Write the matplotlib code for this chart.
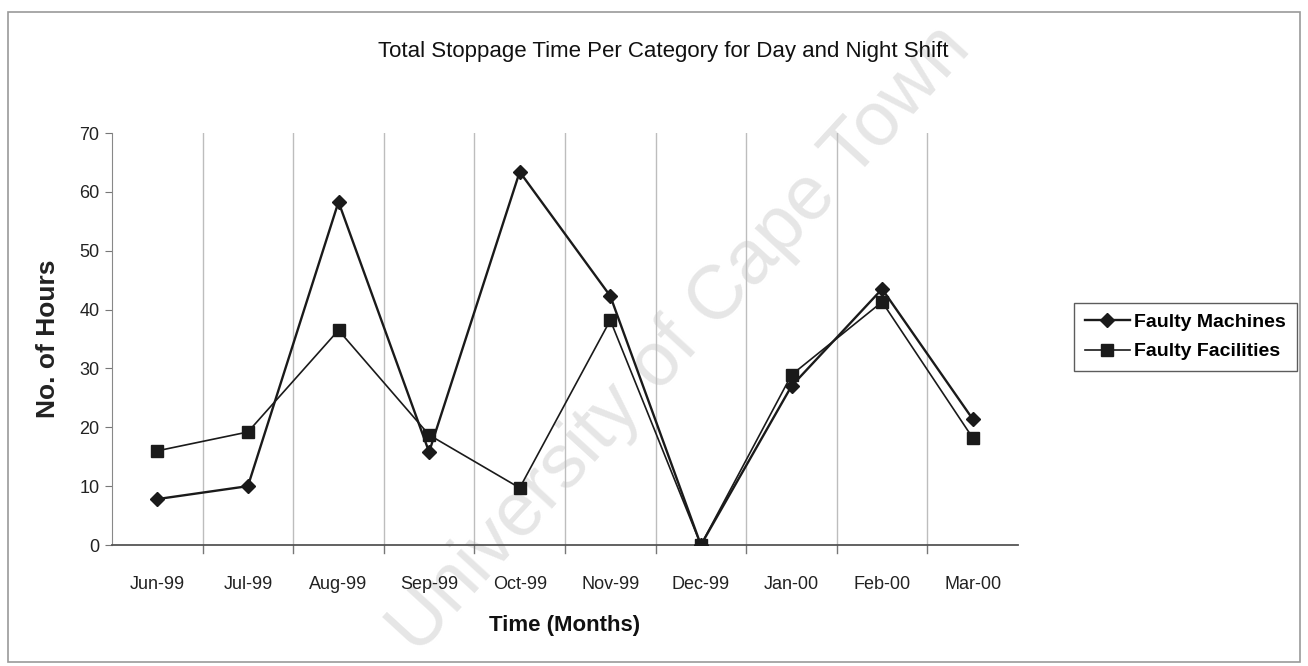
import numpy as np
import matplotlib
matplotlib.use('Agg')
import matplotlib.pyplot as plt
from matplotlib.patches import Rectangle

plt.rcParams['font.family'] = ['Liberation Sans', 'DejaVu Sans']

months = ['Jun-99', 'Jul-99', 'Aug-99', 'Sep-99', 'Oct-99', 'Nov-99',
          'Dec-99', 'Jan-00', 'Feb-00', 'Mar-00']
machines = [7.8, 10.0, 58.3, 15.8, 63.4, 42.3, 0.0, 27.0, 43.5, 21.4]
facilities = [16.0, 19.2, 36.5, 18.7, 9.7, 38.2, 0.0, 28.9, 41.3, 18.2]
yticks = [0, 10, 20, 30, 40, 50, 60, 70]

W, H = 1308, 666
fig = plt.figure(figsize=(W / 100, H / 100), dpi=100)
fig.patch.set_facecolor('white')

# chart area border
fig.patches.append(Rectangle((8/W, 4/H), 1292/W, 650/H,
                             transform=fig.transFigure, fill=False,
                             edgecolor='#9a9a9a', linewidth=1.2))

# faint watermark behind the plot
fig.text(0.52, 0.49, 'University of Cape Town', rotation=47.5,
         ha='center', va='center', fontsize=55, color='#e6e6e6',
         zorder=-1)

fig.text(663/W, 1 - 52/H,
         'Total Stoppage Time Per Category for Day and Night Shift',
         ha='center', va='center', fontsize=16, color='#111111')

ax = fig.add_axes([112/W, 1 - 545/H, (1018 - 112)/W, (545 - 133)/H])
ax.patch.set_alpha(0)

x = np.arange(len(months))
ax.plot(x, machines, color='#1a1a1a', lw=1.7, marker='D', ms=7,
        label='Faulty Machines', zorder=3)
ax.plot(x, facilities, color='#1a1a1a', lw=1.2, marker='s', ms=8,
        label='Faulty Facilities', zorder=3)

ax.set_xlim(-0.5, len(months) - 0.5)
ax.set_ylim(0, 70)
ax.set_yticks(yticks)
ax.tick_params(axis='y', labelsize=13, length=5, color='#777777',
               colors='#222222', pad=4)
ax.set_xticks(x)
ax.set_xticklabels(months, fontsize=13, color='#222222')
ax.tick_params(axis='x', length=0, pad=22)

# category boundaries as vertical grid lines with small ticks
for b in np.arange(0.5, len(months) - 0.5, 1.0):
    ax.axvline(b, color='#bdbdbd', lw=1.0, zorder=1)
    ax.plot([b, b], [0, -1.3], color='#777777', lw=1.0, clip_on=False)

for s in ['top', 'right']:
    ax.spines[s].set_visible(False)
ax.spines['left'].set_color('#888888')
ax.spines['bottom'].set_color('#555555')
ax.spines['bottom'].set_linewidth(1.3)

ax.set_ylabel('No. of Hours', fontsize=19, fontweight='bold',
              labelpad=14, color='#222222')
ax.set_xlabel('Time (Months)', fontsize=16, fontweight='bold',
              labelpad=16, color='#111111')

leg = ax.legend(loc='center left', bbox_to_anchor=(1.062, 0.505),
                frameon=True, fancybox=False,
                prop={'weight': 'bold', 'size': 14}, handlelength=2.3,
                handletextpad=0.25, borderpad=0.55, labelspacing=0.6,
                borderaxespad=0)
leg.get_frame().set_edgecolor('#333333')
leg.get_frame().set_linewidth(1.0)

fig.savefig('out.png', dpi=100, facecolor='white')
